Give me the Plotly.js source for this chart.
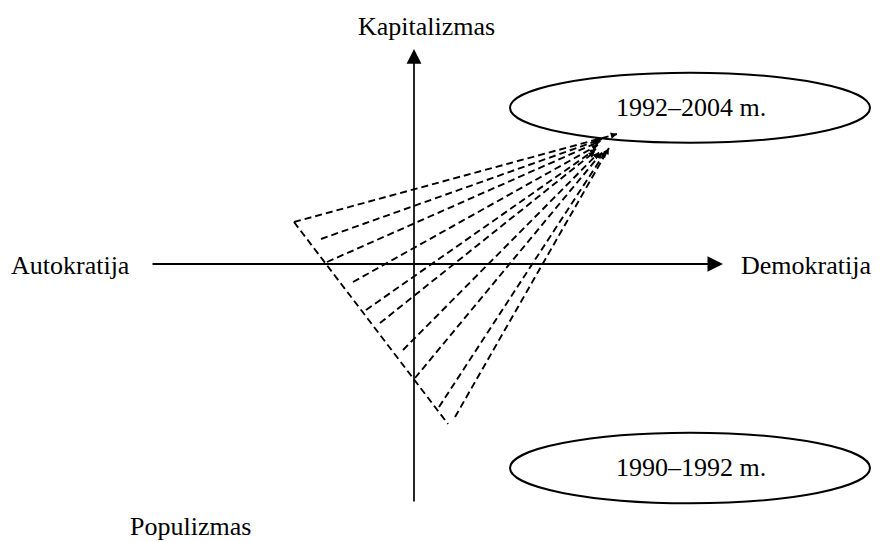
<!DOCTYPE html>
<html>
<head>
<meta charset="utf-8">
<script src="https://cdn.plot.ly/plotly-3.0.1.min.js"></script>
<style>
  html, body { margin: 0; padding: 0; background: #ffffff; }
  #chart { width: 880px; height: 542px; }
</style>
</head>
<body>
<div id="chart"></div>
<script>
// ---- data (diagram units = pixels) ----
const axisLabels = ["Kapitalizmas", "Autokratija", "Demokratija", "Populizmas"];
const periodLabels = ["1992–2004 m.", "1990–1992 m."];

// fan of dashed trajectories: start points on the left edge, ends near the apex
const fanStartX = [294, 321, 327, 353, 366, 380, 403, 415, 439, 455];
const fanStartY = [222, 239, 262, 282, 310, 323, 350, 378, 407, 417];
const fanEndX   = [617, 602, 600.5, 598, 596, 595, 599, 602, 606, 609];
const fanEndY   = [134, 139, 141, 145, 149, 151.5, 152.5, 152.5, 151, 148];

// left edge of the triangle
const edgeX = [294, 448];
const edgeY = [222, 424];

// axes (tail -> head)
const hAxisX = [151, 723];
const hAxisY = [264, 264];
const vAxisX = [414, 414];
const vAxisY = [503, 49];

// label anchor points
const labelX = [426, 70, 806, 190];
const labelY = [26, 265, 265, 526];
const periodX = [691, 691];
const periodY = [107, 467];

// ---- build traces ----
const fx = [], fy = [];
for (let i = 0; i < fanStartX.length; i++) {
  fx.push(fanStartX[i], fanEndX[i], null);
  fy.push(fanStartY[i], fanEndY[i], null);
}
fx.push(edgeX[0], edgeX[1]);
fy.push(edgeY[0], edgeY[1]);

const traces = [
  {
    x: fx, y: fy, type: 'scatter', mode: 'lines',
    line: { color: '#000', width: 1.9, dash: '7px,4px' },
    hoverinfo: 'skip', connectgaps: false
  }
];

const FONT = { family: '"Liberation Serif", "Times New Roman", serif', size: 26, color: '#000' };

const annotations = [];
// axis arrows
annotations.push({
  x: hAxisX[1], y: hAxisY[1], ax: hAxisX[0], ay: hAxisY[0],
  xref: 'x', yref: 'y', axref: 'x', ayref: 'y', text: '',
  showarrow: true, arrowhead: 2, arrowwidth: 2, arrowsize: 1.55, arrowcolor: '#000'
});
annotations.push({
  x: vAxisX[1], y: vAxisY[1], ax: vAxisX[0], ay: vAxisY[0],
  xref: 'x', yref: 'y', axref: 'x', ayref: 'y', text: '',
  showarrow: true, arrowhead: 2, arrowwidth: 1.7, arrowsize: 1.75, arrowcolor: '#000'
});
// small arrowheads at the ends of the fan lines
for (let i = 0; i < fanStartX.length; i++) {
  const dx = fanStartX[i] - fanEndX[i], dy = fanStartY[i] - fanEndY[i];
  const len = Math.hypot(dx, dy);
  annotations.push({
    x: fanEndX[i], y: fanEndY[i],
    ax: fanEndX[i] + dx / len * 4, ay: fanEndY[i] + dy / len * 4,
    xref: 'x', yref: 'y', axref: 'x', ayref: 'y', text: '',
    showarrow: true, arrowhead: 2, arrowwidth: 1.4, arrowsize: 0.9, arrowcolor: '#000'
  });
}
// labels
for (let i = 0; i < axisLabels.length; i++) {
  annotations.push({
    x: labelX[i], y: labelY[i], xref: 'x', yref: 'y', text: axisLabels[i],
    showarrow: false, font: FONT, xanchor: 'center', yanchor: 'middle'
  });
}
for (let i = 0; i < periodLabels.length; i++) {
  annotations.push({
    x: periodX[i], y: periodY[i], xref: 'x', yref: 'y', text: periodLabels[i],
    showarrow: false, font: FONT, xanchor: 'center', yanchor: 'middle'
  });
}

const shapes = [
  { type: 'circle', xref: 'x', yref: 'y', x0: 510, x1: 870, y0: 72.7, y1: 142.7,
    line: { color: '#000', width: 2 }, fillcolor: 'rgba(0,0,0,0)', layer: 'above' },
  { type: 'circle', xref: 'x', yref: 'y', x0: 510, x1: 870, y0: 432.7, y1: 503.3,
    line: { color: '#000', width: 2 }, fillcolor: 'rgba(0,0,0,0)', layer: 'above' }
];

const layout = {
  width: 880, height: 542,
  margin: { l: 0, r: 0, t: 0, b: 0, pad: 0 },
  paper_bgcolor: '#fff', plot_bgcolor: '#fff',
  showlegend: false,
  xaxis: { range: [0, 880], visible: false, fixedrange: true },
  yaxis: { range: [542, 0], visible: false, fixedrange: true },
  annotations: annotations,
  shapes: shapes
};

Plotly.newPlot('chart', traces, layout, { staticPlot: true, displayModeBar: false });
</script>
</body>
</html>
